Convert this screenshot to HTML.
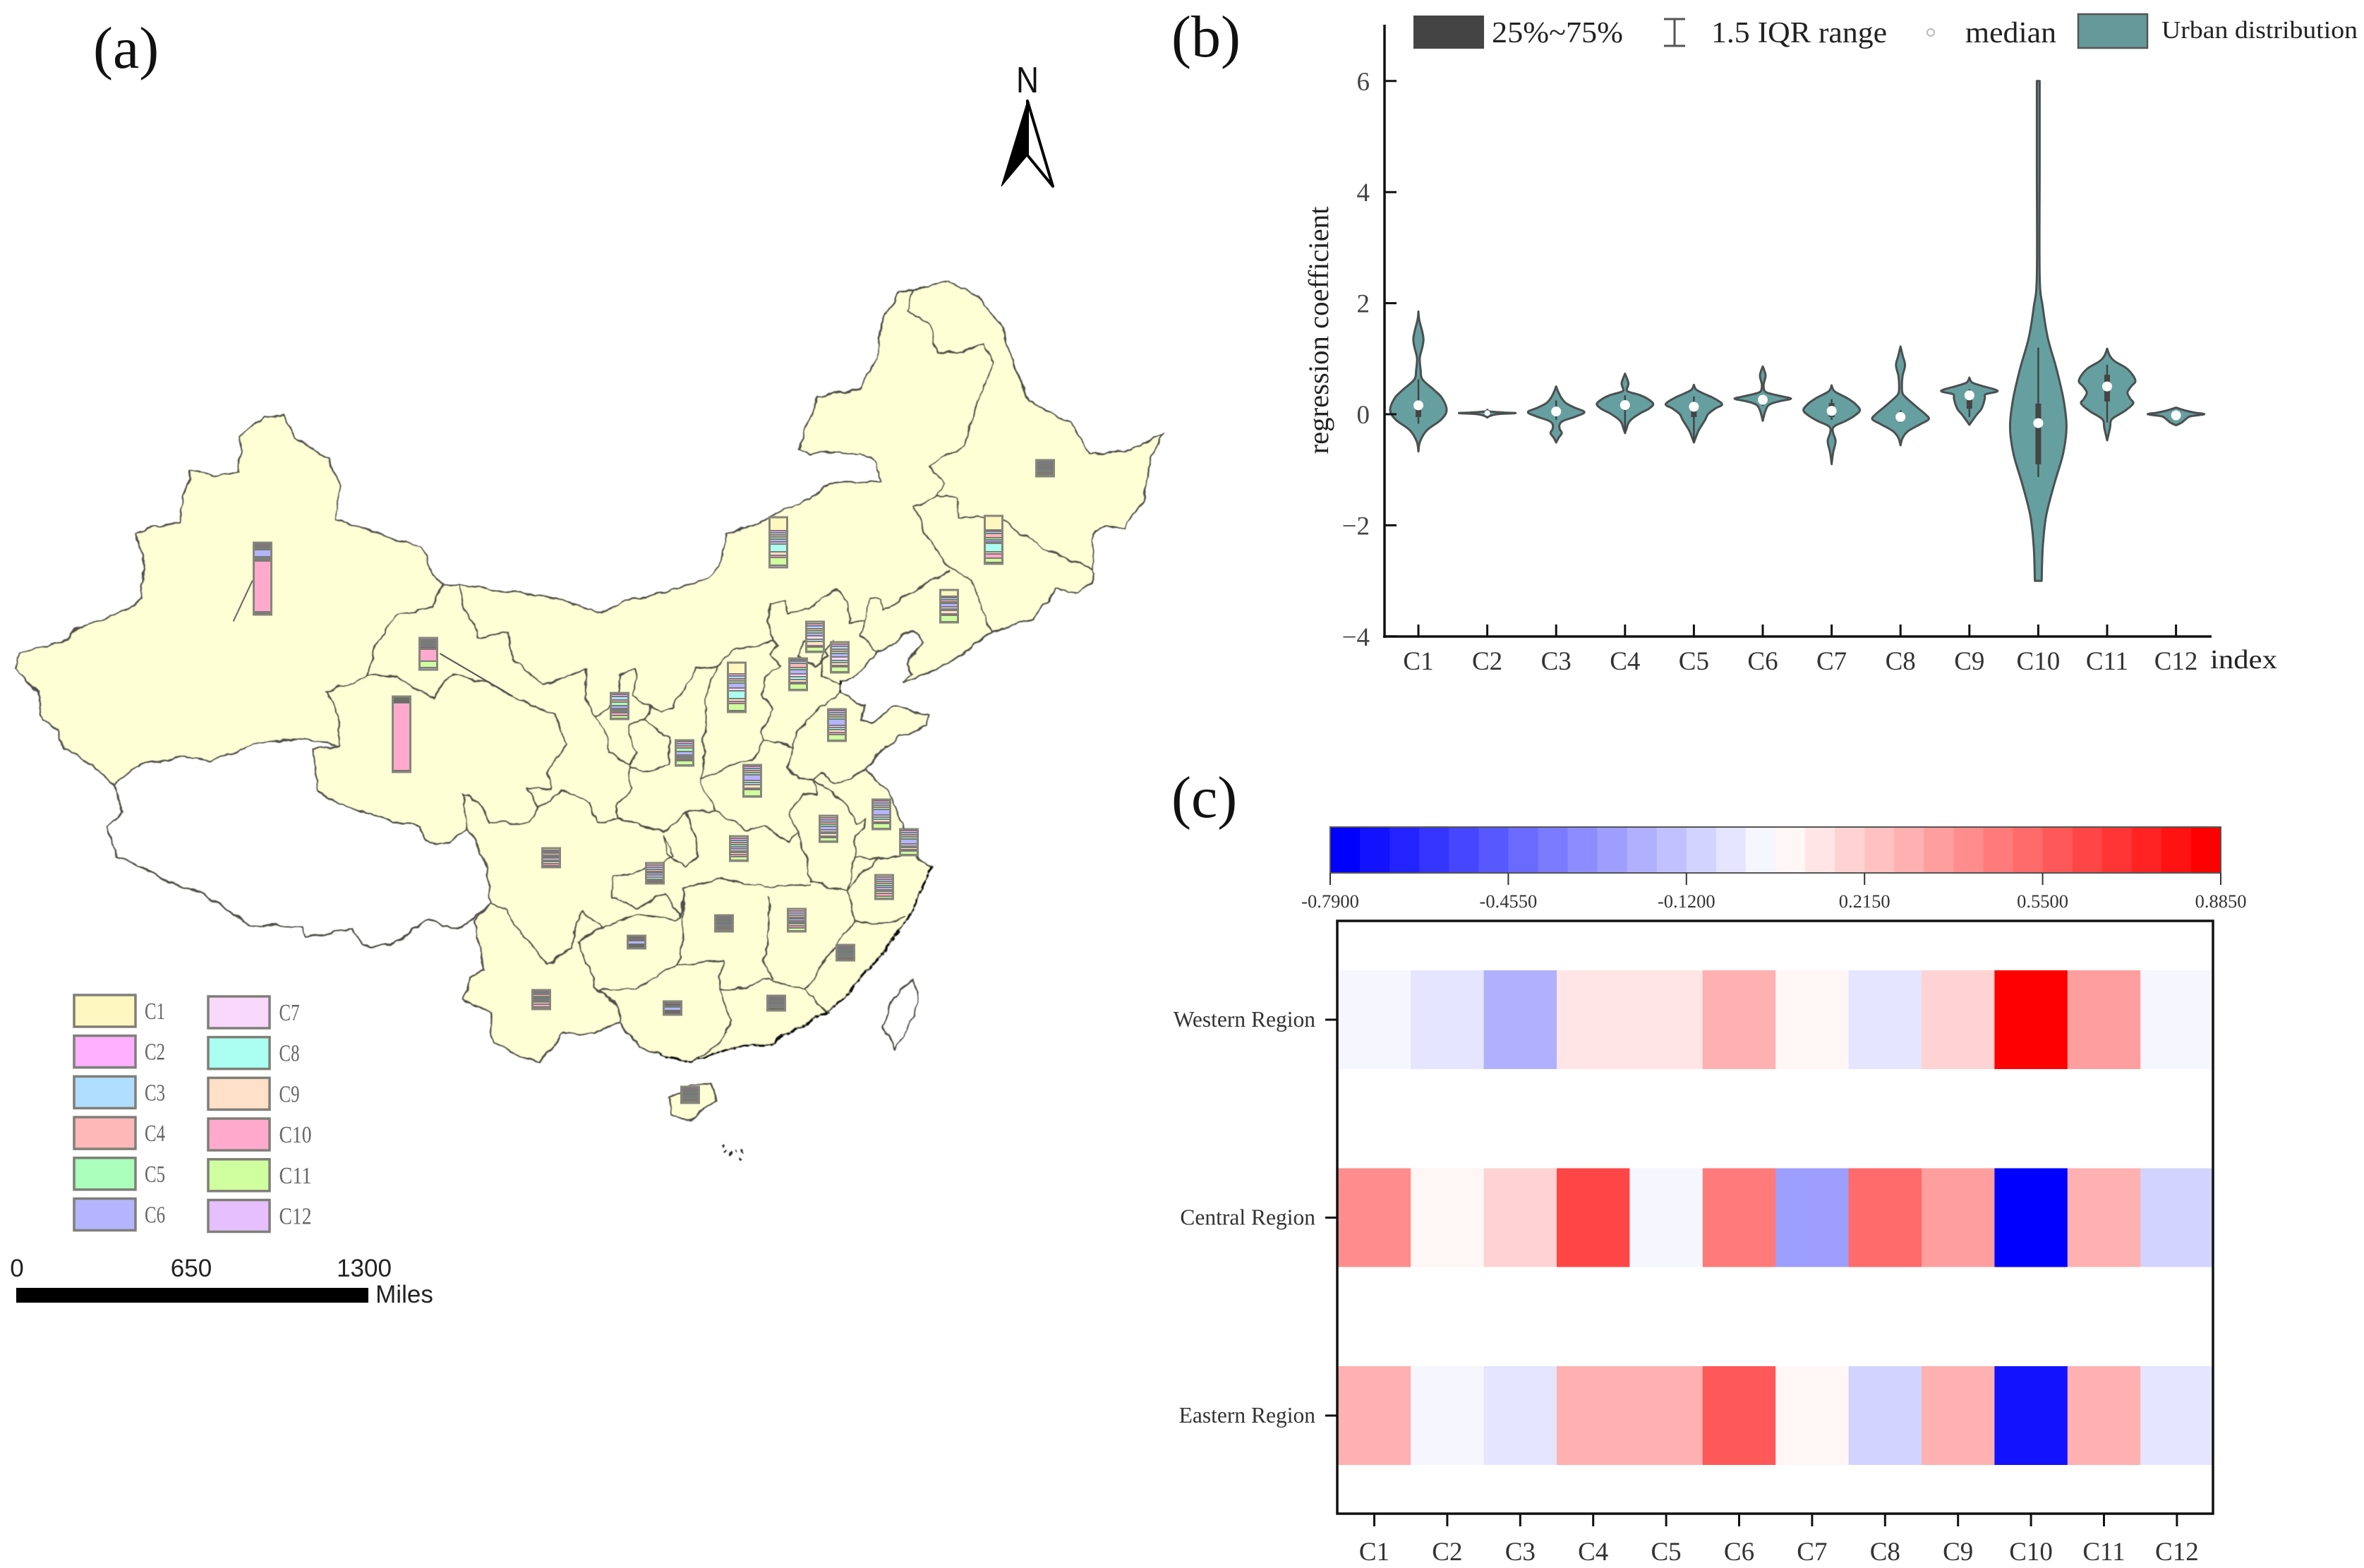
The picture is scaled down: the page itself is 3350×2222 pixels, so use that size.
<!DOCTYPE html>
<html><head><meta charset="utf-8"><title>Regional regression coefficients</title>
<style>
html,body{margin:0;padding:0;background:#fff;width:3350px;height:2222px;overflow:hidden}
svg{display:block}
text{font-family:"Liberation Serif",serif}
.prov{fill:none;stroke:#505048;stroke-width:2.4;vector-effect:non-scaling-stroke;stroke-linejoin:round}
</style></head>
<body>
<svg id="root" width="3350" height="2222" viewBox="0 0 3350 2222" xmlns="http://www.w3.org/2000/svg">
<defs>
<filter id="rough" filterUnits="userSpaceOnUse" x="0" y="300" width="1750" height="1400">
<feTurbulence type="fractalNoise" baseFrequency="0.04" numOctaves="3" seed="4" result="n"/>
<feDisplacementMap in="SourceGraphic" in2="n" scale="11" xChannelSelector="R" yChannelSelector="G" result="d"/>
<feGaussianBlur in="d" stdDeviation="0.5"/>
</filter>
</defs>
<rect width="3350" height="2222" fill="#fff"/>
<text x="132" y="96" font-size="84" fill="#111">(a)</text>
<text x="1660" y="80" font-size="84" fill="#111">(b)</text>
<text x="1660" y="1158" font-size="84" fill="#111">(c)</text>

<g>
<g filter="url(#rough)">
<g transform="translate(0,350) scale(1.0842,0.829)">
<polygon fill="#ffffd6" stroke="#505048" stroke-width="2.4" vector-effect="non-scaling-stroke" points="20,720 25,695 45,685 75,680 100,655 130,640 165,620 185,600 188,545 178,490 205,478 235,470 240,430 250,380 280,392 310,385 315,325 345,290 370,290 385,325 405,345 430,360 445,410 440,465 470,478 500,490 550,515 565,550 578,578 600,578 640,585 680,590 740,605 785,628 830,600 885,585 925,565 945,530 950,490 1005,465 1030,445 1060,430 1075,410 1105,405 1150,400 1145,370 1125,350 1095,350 1060,355 1045,345 1055,300 1070,255 1125,240 1145,190 1155,120 1175,80 1205,68 1240,60 1280,85 1310,135 1325,200 1345,265 1400,300 1425,355 1480,345 1520,320 1505,360 1495,430 1470,480 1445,478 1428,490 1428,575 1410,590 1380,585 1350,635 1289,663 1257,699 1197,740 1179,744 1193,731 1186,711 1207,675 1197,657 1179,663 1147,695 1137,707 1116,735 1098,740 1098,764 1130,784 1126,808 1140,814 1169,784 1215,802 1211,820 1176,836 1158,856 1133,892 1165,940 1178,985 1200,1050 1218,1060 1205,1095 1190,1140 1165,1190 1130,1240 1085,1305 1050,1330 1010,1360 960,1370 930,1380 905,1395 860,1380 835,1365 810,1325 770,1345 735,1345 705,1395 670,1375 645,1360 640,1310 605,1285 615,1250 632,1235 620,1150 640,1125 638,1060 612,995 590,1018 560,1020 548,990 470,965 415,930 410,860 445,855 395,840 330,850 275,880 240,870 180,885 150,920 120,885 85,860 75,825 55,810 50,760"/>
<polyline class="prov" points="150,920 160,965 140,990 155,1040 205,1075 260,1105 300,1135 330,1160 395,1160 400,1180 460,1165 475,1195 510,1195 560,1150 600,1165 625,1140 640,1125"/>
<path class="prov" d="M1195,72L1185,110 1215,130 1225,180 1260,180 1285,165 1300,200 1280,250 1260,340 1215,375 1235,405 1225,425 1250,430 1255,460 1310,465 1355,510 1390,530 1428,550
M1225,425L1195,445 1210,490 1240,550 1270,570 1295,660
M1240,555L1197,583 1155,623 1151,603 1137,599 1132,642 1125,663 1147,695
M1132,642L1112,639 1107,607 1094,585 1077,599 1056,619 1029,627 1027,607 1008,609 1003,639 1010,673 964,687 943,709 936,717 911,721 883,776 879,790 862,792 851,784 824,766 835,740 830,721 812,731 808,764 796,790 777,802 794,832 796,864 823,886 833,864 821,836 823,814 842,810 851,784
M777,802L765,770 765,722 710,750 670,705 665,660 625,665 610,625 600,578
M842,810L876,840 874,884 840,898 823,888 821,908 824,925 805,957 808,977 868,1001 897,965 934,965 914,910 922,864 918,844 923,824 922,772 936,717
M914,910L960,884 985,880 999,842 994,832 1010,792 996,764 1001,736 1019,715 1006,695 1017,683 1010,673
M999,842L1038,854 1038,832 1073,786 1098,764
M1088,671L1075,699 1073,735 1098,748 M1050,675L1042,699 1066,715 1082,699 1073,667 1050,675
M1038,854L1027,888 1045,912 1063,910 1073,898 1091,916 1112,910 1133,892
M1063,910L1070,937 1049,932 1031,969 1045,1001 1050,1030 1060,1085 1110,1100 1118,1045 1116,1005 1130,993 1131,977 1119,985 1105,949 1063,910
M1118,1042L1150,1045 1178,1042 M1110,1100L1145,1045
M934,965L975,995 1000,990 1030,1020 1045,1001
M425,760L480,735 520,735 565,770 590,730 640,745 670,770 725,800 740,850 715,900 720,930 690,925 705,960 735,930 770,950 780,985 808,977
M578,578L565,615 520,630 490,680 480,735 425,760 440,790 445,855
M612,995L605,935 625,950 640,985 690,985 705,960
M640,1125L660,1135 685,1180 715,1225 745,1200 760,1135 790,1165 770,1175 755,1190 780,1170 830,1140 880,1150 890,1145
M868,1005L880,1040 850,1060 800,1075 800,1110 830,1130 870,1105 890,1145 895,1095 945,1080 1000,1095 1060,1090
M897,965L910,1010 915,1040 895,1060 870,1035 868,1005
M895,1095L890,1210 885,1225 945,1220 940,1270 960,1270 1005,1250 1050,1270 1085,1310
M885,1225L830,1270 780,1270 775,1250 755,1190 M780,1270L810,1300 810,1325 M830,1270L885,1225
M1005,1110L1005,1170 1000,1220 1010,1250 M1110,1100L1115,1150 1055,1265 1050,1270
M1115,1150L1165,1155 1182,1145
M940,1270L955,1320 940,1360 905,1395"/>
<polygon fill="#ffffd6" stroke="#505048" stroke-width="2.4" vector-effect="non-scaling-stroke" points="875,1452 905,1432 930,1430 936,1458 915,1478 900,1496 878,1482"/>
<polygon fill="#fff" stroke="#505048" stroke-width="2.4" vector-effect="non-scaling-stroke" points="1195,1253 1175,1270 1160,1300 1155,1335 1170,1370 1185,1340 1200,1290"/>
<polyline fill="none" stroke="#111" stroke-width="3.6" stroke-dasharray="9 3 4 6 14 4 3 8" vector-effect="non-scaling-stroke" points="1218,1060 1205,1095 1190,1140 1165,1190 1130,1240 1085,1305 1050,1330 1010,1360 960,1370 930,1380 905,1395 860,1380"/>
<polyline fill="none" stroke="#111" stroke-width="3.4" stroke-dasharray="6 10 3 14" vector-effect="non-scaling-stroke" points="1098,740 1098,764 M1179,744 1197,740 1257,699"/>
<polyline fill="none" stroke="#222" stroke-width="4" stroke-dasharray="3 5 2 7" vector-effect="non-scaling-stroke" points="945,1535 952,1552 972,1545 965,1565"/>
</g></g>
<g transform="translate(0,350) scale(1.0842,0.829)">
<polyline fill="none" stroke="#666" stroke-width="2" vector-effect="non-scaling-stroke" points="330,570 305,640"/>
<polyline fill="none" stroke="#555" stroke-width="2" vector-effect="non-scaling-stroke" points="575,695 670,768"/>
</g>
<g id="bars">
<g class="pb" transform="translate(372,769)"></g>
<g class="pb" transform="translate(569,987)"></g>
<g class="pb" transform="translate(607,904)"></g>
<g class="pb" transform="translate(1103,733)"></g>
<g class="pb" transform="translate(1481,652)"></g>
<g class="pb" transform="translate(1408,731)"></g>
<g class="pb" transform="translate(1345,836)"></g>
<g class="pb" transform="translate(1155,881)"></g>
<g class="pb" transform="translate(1190,910)"></g>
<g class="pb" transform="translate(1131,933)"></g>
<g class="pb" transform="translate(1044,939)"></g>
<g class="pb" transform="translate(1186,1005)"></g>
<g class="pb" transform="translate(878,982)"></g>
<g class="pb" transform="translate(970,1049)"></g>
<g class="pb" transform="translate(1066,1084)"></g>
<g class="pb" transform="translate(1249,1133)"></g>
<g class="pb" transform="translate(1174,1156)"></g>
<g class="pb" transform="translate(1288,1175)"></g>
<g class="pb" transform="translate(1047,1185)"></g>
<g class="pb" transform="translate(781,1202)"></g>
<g class="pb" transform="translate(928,1223)"></g>
<g class="pb" transform="translate(1253,1240)"></g>
<g class="pb" transform="translate(1026,1297)"></g>
<g class="pb" transform="translate(1129,1288)"></g>
<g class="pb" transform="translate(902,1326)"></g>
<g class="pb" transform="translate(1198,1339)"></g>
<g class="pb" transform="translate(767,1403)"></g>
<g class="pb" transform="translate(953,1419)"></g>
<g class="pb" transform="translate(1100,1411)"></g>
<g class="pb" transform="translate(978,1540)"></g>
</g>
<g id="mapLegend"></g>
<g>
<rect x="23" y="1825" width="499" height="21" fill="#000"/>
<g font-size="35" fill="#222" text-anchor="middle">
<text x="24" y="1809" style="font-family:'Liberation Sans',sans-serif">0</text>
<text x="271" y="1809" style="font-family:'Liberation Sans',sans-serif">650</text>
<text x="516" y="1809" style="font-family:'Liberation Sans',sans-serif">1300</text>
<text x="573" y="1846" style="font-family:'Liberation Sans',sans-serif">Miles</text>
</g></g>
<g>
<text x="1440" y="131" font-size="52" textLength="32" lengthAdjust="spacingAndGlyphs" fill="#111" style="font-family:'Liberation Sans',sans-serif">N</text>
<polygon points="1456,143 1492,264 1456,220" fill="#fff" stroke="#000" stroke-width="4" stroke-linejoin="round"/>
<polygon points="1456,143 1419,264 1456,220" fill="#000" stroke="#000" stroke-width="1"/>
</g>
</g>

<g id="violinChart"></g>
<g id="heatChart"></g>
</svg>
<script>
/* ---------- shared categories ---------- */
const indexLabels = ['C1','C2','C3','C4','C5','C6','C7','C8','C9','C10','C11','C12'];

/* ---------- map: stacked bars (C1..C12, top to bottom) ---------- */
const legendColors = ['#fff7bf','#ffb0ff','#b0deff','#ffb8b8','#aaffbb','#b5b5ff','#f8d8fb','#aafff0','#ffe0c8','#ffaacc','#d0ff9f','#e5bfff'];
const provinceValues = [
[2,2,2,2,2,10,2,2,2,72,2,2],[1,1,1,1,1,1,1,1,1,96,1,1],[1,2,2,2,2,2,2,1,2,17,9,3],
[19,3,3,3,3,4,3,11,5,3,11,3],[2,2,2,2,2,2,2,2,2,2,2,1],[20,2,3,6,3,3,2,12,3,6,6,2],
[9,2,3,3,2,5,3,2,5,2,9,1],[3,3,4,3,3,4,5,3,6,2,6,1],[3,3,4,3,3,5,5,3,4,2,7,1],
[2,2,3,6,3,6,4,4,4,2,8,1],[16,3,4,3,3,7,4,11,4,3,10,2],[2,3,3,3,3,9,3,3,4,3,8,1],
[2,3,5,3,5,4,2,2,2,4,4,1],[2,3,3,3,5,5,2,2,2,2,6,1],[2,3,3,3,3,8,3,3,5,2,9,1],
[2,3,3,3,3,8,3,3,4,2,7,1],[3,3,3,3,3,5,3,2,4,2,5,1],[2,3,3,3,3,7,3,2,3,2,5,1],
[3,3,3,3,3,3,3,2,3,3,5,1],[3,2,2,3,2,2,3,2,3,3,1,1],[3,3,3,3,2,3,3,3,2,2,1,1],
[3,3,3,3,3,3,3,2,3,4,3,1],[2,2,2,2,2,2,2,2,2,2,2,1],[3,3,3,3,2,3,2,2,3,3,4,1],
[2,1,1,2,1,5,1,1,1,1,1,1],[2,2,2,2,2,2,2,2,2,2,1,1],[2,2,2,3,2,2,2,2,3,4,2,1],
[2,2,1,1,2,5,1,1,1,1,1,1],[2,2,2,2,2,2,2,2,2,1,1,1],[2,2,2,2,2,2,2,2,2,2,2,1]];

/* ---------- violin data: value stations and relative density ---------- */
const violinTicks = [-4,-2,0,2,4,6];
const violinValues = [
[1.85,1.7,1.35,1.05,.95,.8,.63,.44,.29,.07,-.1,-.29,-.49,-.67],
[.08,.05,.03,.02,0,-.03,-.06],
[.5,.42,.3,.2,.12,.04,-.04,-.12,-.19,-.27,-.34,-.43,-.51],
[.73,.56,.44,.4,.34,.26,.18,.1,.02,-.07,-.15,-.25,-.34],
[.53,.44,.36,.29,.18,.1,0,-.1,-.29,-.4,-.51],
[.86,.7,.53,.41,.36,.32,.28,.24,.2,.15,.04,-.12],
[.52,.41,.29,.18,.07,-.03,-.12,-.2,-.26,-.35,-.49,-.7,-.9],
[1.22,1.05,.88,.68,.47,.36,.26,.12,0,-.09,-.18,-.3,-.42,-.56],
[.66,.57,.51,.42,.36,.29,.19,.09,0,-.09,-.19],
[6,4.5,2.5,1.93,1.37,.81,.25,-.23,-.71,-1.27,-1.83,-2.39,-3],
[1.18,1.05,.95,.81,.61,.5,.39,.28,.19,.05,-.09,-.25,-.47],
[.12,.07,.03,0,-.04,-.1,-.15,-.2]];
const violinDensity = [
[0,.03,.18,.06,.05,.08,.14,.55,.84,1,.8,.3,.06,0],
[0,.1,.6,1,.35,.1,0],
[0,.06,.18,.35,.65,1,.7,.25,.12,.13,.2,.08,0],
[0,.12,.06,.15,.55,.85,1,.85,.55,.28,.13,.06,0],
[0,.09,.4,.7,1,.75,.5,.4,.17,.08,0],
[0,.1,.03,.08,.35,.7,1,.65,.35,.18,.08,0],
[0,.11,.55,.85,1,.8,.5,.15,.04,.06,.14,.05,0],
[0,.08,.16,.07,.05,.09,.28,.6,.88,1,.7,.28,.08,0],
[0,.1,.45,1,.58,.55,.5,.42,.27,.14,0],
[.05,.05,.05,.16,.34,.65,.9,1,.88,.56,.28,.16,.12],
[0,.1,.28,.73,1,.85,.72,.82,.92,.6,.17,.1,0],
[0,.3,.65,1,.5,.32,.2,0]];
const medians = [.16,.02,.05,.165,.135,.26,.06,-.05,.34,-.16,.5,-.02];
const q1s = [-.05,.02,0,.08,-.05,.2,-.05,-.1,.1,-.9,.23,-.02];
const q3s = [.16,.02,.12,.24,.2,.3,.2,.02,.35,.19,.71,-.02];
const whiskerLow = [-.17,.02,-.1,-.3,-.49,.15,-.1,-.15,-.05,-1.13,-.15,-.02];
const whiskerHigh = [.63,.02,.25,.34,.32,.32,.27,.07,.45,1.2,.89,-.02];

/* ---------- heatmap data ---------- */
const regionLabels = ['Western Region','Central Region','Eastern Region'];
const westernValues = [.02,-.036,-.204,.131,.131,.298,.075,-.036,.187,.857,.355,.02];
const centralValues = [.41,.075,.187,.633,.02,.466,-.26,.52,.355,-.76,.298,-.092];
const easternValues = [.298,.02,-.036,.298,.298,.577,.075,-.092,.298,-.707,.298,-.036];
const colorbarTicks = ['-0.7900','-0.4550','-0.1200','0.2150','0.5500','0.8850'];

const NS = 'http://www.w3.org/2000/svg';
function mk(parent, tag, attrs, txt) {
  const e = document.createElementNS(NS, tag);
  for (const k in attrs) e.setAttribute(k, attrs[k]);
  if (txt !== undefined) e.textContent = txt;
  parent.appendChild(e);
  return e;
}

/* map bars */
const barScale = 1;
document.querySelectorAll('.pb').forEach(function (g, p) {
  let y = 0;
  provinceValues[p].forEach(function (v, c) {
    const r = mk(g, 'rect', {x:-12, y:y, width:24, height:v*barScale, fill:legendColors[c], stroke:'#6c6c68', 'stroke-width':1.6});
    
    
    y += v*barScale;
  });
  const o = mk(g, 'rect', {x:-12.5, y:0, width:25, height:y, fill:'none', stroke:'#86867c', 'stroke-width':3});
  
  
});

/* map legend */
const mapLegend = document.getElementById('mapLegend');
indexLabels.forEach(function (lab, i) {
  const col = i < 6 ? 0 : 1, row = i % 6;
  const x = col ? 295 : 105, y = (col ? 1412 : 1410) + row*57.7;
  const s = mk(mapLegend, 'rect', {x:x, y:y, width:87, height:45, fill:legendColors[i], stroke:'#7f7f78', 'stroke-width':3.5});
  
  
  const t = mk(mapLegend, 'text', {x:col ? 395.5 : 205, y:y+34, 'font-size':34, fill:'#666', textLength:lab.length > 2 ? 46 : 29, lengthAdjust:'spacingAndGlyphs'}, lab);
  
  
});

/* violin chart */
const vc = document.getElementById('violinChart');
const vY = function (v) { return 587 - 78.7*v; };
const vX = function (i) { return 2010 + 97.6*i; };
const VW = 40;
function curve(pts) {
  let d = '';
  for (let i = 0; i < pts.length-1; i++) {
    const p0 = pts[Math.max(i-1,0)], p1 = pts[i], p2 = pts[i+1], p3 = pts[Math.min(i+2,pts.length-1)];
    const c1 = [p1[0]+(p2[0]-p0[0])/6, p1[1]+(p2[1]-p0[1])/6], c2 = [p2[0]-(p3[0]-p1[0])/6, p2[1]-(p3[1]-p1[1])/6];
    d += 'C'+c1[0].toFixed(1)+','+c1[1].toFixed(1)+' '+c2[0].toFixed(1)+','+c2[1].toFixed(1)+' '+p2[0].toFixed(1)+','+p2[1].toFixed(1);
  }
  return d;
}
indexLabels.forEach(function (lab, i) {
  const cx = vX(i);
  const right = violinValues[i].map(function (v, k) { return [cx + violinDensity[i][k]*VW, vY(v)]; });
  const left = violinValues[i].map(function (v, k) { return [cx - violinDensity[i][k]*VW, vY(v)]; }).reverse();
  const d = 'M'+right[0][0].toFixed(1)+','+right[0][1].toFixed(1)+curve(right)+'L'+left[0][0].toFixed(1)+','+left[0][1].toFixed(1)+curve(left)+'Z';
  const b = mk(vc, 'path', {d:d, fill:'#669f9f', stroke:'#4a5050', 'stroke-width':3, 'stroke-linejoin':'round'});
  
  
  if (whiskerHigh[i] !== whiskerLow[i]) {
    const w = mk(vc, 'line', {x1:cx, x2:cx, y1:vY(whiskerHigh[i]), y2:vY(whiskerLow[i]), stroke:'#444', 'stroke-width':2.5});
    
    
    const q = mk(vc, 'line', {x1:cx, x2:cx, y1:vY(q3s[i]), y2:vY(q1s[i]), stroke:'#444', 'stroke-width':8});
    
    
  }
  const m = mk(vc, 'circle', {cx:cx, cy:vY(medians[i]), r:i === 1 ? 4 : 7, fill:'#fff'});
  
  
  const tick = mk(vc, 'line', {x1:cx, x2:cx, y1:885, y2:902, stroke:'#111', 'stroke-width':3});
  
  
  const tl = mk(vc, 'text', {x:cx, y:949, 'text-anchor':'middle', 'font-size':37, fill:'#333'}, lab);
  
  
});
violinTicks.forEach(function (v) {
  const t = mk(vc, 'line', {x1:1962, x2:1979, y1:vY(v), y2:vY(v), stroke:'#111', 'stroke-width':3});
  
  
  const l = mk(vc, 'text', {x:1941, y:vY(v)+13, 'text-anchor':'end', 'font-size':37, fill:'#444'}, String(v).replace('-', '\u2212'));
  
  
});
const yAxis = mk(vc, 'line', {x1:1962, x2:1962, y1:35, y2:904, stroke:'#111', 'stroke-width':3.5});


const xAxis = mk(vc, 'line', {x1:1960, x2:3134, y1:902, y2:902, stroke:'#111', 'stroke-width':3.5});


const yTitle = mk(vc, 'text', {x:0, y:0, transform:'translate(1882,468) rotate(-90)', 'text-anchor':'middle', 'font-size':40, fill:'#222', textLength:351, lengthAdjust:'spacingAndGlyphs'}, 'regression coefficient');


const xTitle = mk(vc, 'text', {x:3132, y:947, 'font-size':38, fill:'#222', textLength:95, lengthAdjust:'spacingAndGlyphs'}, 'index');



/* violin legend */
const s1 = mk(vc, 'rect', {x:2003, y:22, width:100, height:47, fill:'#444'});


const t1 = mk(vc, 'text', {x:2114, y:60, 'font-size':42, fill:'#222', textLength:186, lengthAdjust:'spacingAndGlyphs'}, '25%~75%');


const ic = mk(vc, 'path', {d:'M2358,27H2388M2373,27V65M2358,65H2388', fill:'none', stroke:'#555', 'stroke-width':3});


const t2 = mk(vc, 'text', {x:2425, y:60, 'font-size':42, fill:'#222', textLength:249, lengthAdjust:'spacingAndGlyphs'}, '1.5 IQR range');


const mk3 = mk(vc, 'circle', {cx:2736, cy:46, r:5, fill:'#fff', stroke:'#bbb', 'stroke-width':2});


const t3 = mk(vc, 'text', {x:2785, y:60, 'font-size':42, fill:'#222', textLength:129, lengthAdjust:'spacingAndGlyphs'}, 'median');


const s4 = mk(vc, 'rect', {x:2945, y:20, width:98, height:48, fill:'#669999', stroke:'#555', 'stroke-width':2.5});


const t4 = mk(vc, 'text', {x:3063, y:54, 'font-size':35, fill:'#222', textLength:278, lengthAdjust:'spacingAndGlyphs'}, 'Urban distribution');



/* heatmap */
const hc = document.getElementById('heatChart');
const VMIN = -0.79, VMAX = 0.885, STEPS = 30;
function stepColor(k) {
  const t = k < STEPS/2 ? k/(STEPS/2 - 0.5)*0.5 : 0.5 + (k - STEPS/2 + 0.5)/(STEPS/2 - 0.5)*0.5;
  const u = t < 0.5 ? Math.round(2*t*255) : Math.round((1-t)*2*255);
  return t < 0.5 ? 'rgb('+u+','+u+',255)' : 'rgb(255,'+u+','+u+')';
}
function valueColor(v) {
  let k = Math.floor((v - VMIN)/(VMAX - VMIN)*STEPS);
  k = Math.max(0, Math.min(STEPS-1, k));
  return stepColor(k);
}
const CBX = 1885, CBW = 1262;
for (let k = 0; k < STEPS; k++) {
  const r = mk(hc, 'rect', {x:CBX + k*CBW/STEPS, y:1172, width:CBW/STEPS + .5, height:65, fill:stepColor(k)});
  
  
}
const cbF = mk(hc, 'rect', {x:CBX, y:1172, width:CBW, height:65, fill:'none', stroke:'#555', 'stroke-width':2});


colorbarTicks.forEach(function (lab, i) {
  const x = CBX + i*CBW/(colorbarTicks.length-1);
  const t = mk(hc, 'line', {x1:x, x2:x, y1:1237, y2:1254, stroke:'#333', 'stroke-width':2});
  
  
  const l = mk(hc, 'text', {x:x, y:1286, 'text-anchor':'middle', 'font-size':26.5, fill:'#333'}, lab);
  
  
});
const hX = function (i) { return 1947.5 + 103.4*i; };
const hY = function (r) { return 1445 + 280.5*r; };
[westernValues, centralValues, easternValues].forEach(function (vals, r) {
  vals.forEach(function (v, c) {
    const cell = mk(hc, 'rect', {x:hX(c)-51.7, y:hY(r)-70, width:103.9, height:140, fill:valueColor(v)});
    
    
  });
  const t = mk(hc, 'line', {x1:1878, x2:1895, y1:hY(r), y2:hY(r), stroke:'#111', 'stroke-width':3});
  
  
  const l = mk(hc, 'text', {x:1864, y:hY(r)+10, 'text-anchor':'end', 'font-size':31.5, fill:'#333'}, regionLabels[r]);
  
  
});
indexLabels.forEach(function (lab, c) {
  const t = mk(hc, 'line', {x1:hX(c), x2:hX(c), y1:2145, y2:2163, stroke:'#111', 'stroke-width':3});
  
  
  const l = mk(hc, 'text', {x:hX(c), y:2211, 'text-anchor':'middle', 'font-size':37, fill:'#333'}, lab);
  
  
});
const hf = mk(hc, 'rect', {x:1895, y:1305, width:1241, height:840, fill:'none', stroke:'#111', 'stroke-width':3.5});


</script>
</body></html>
